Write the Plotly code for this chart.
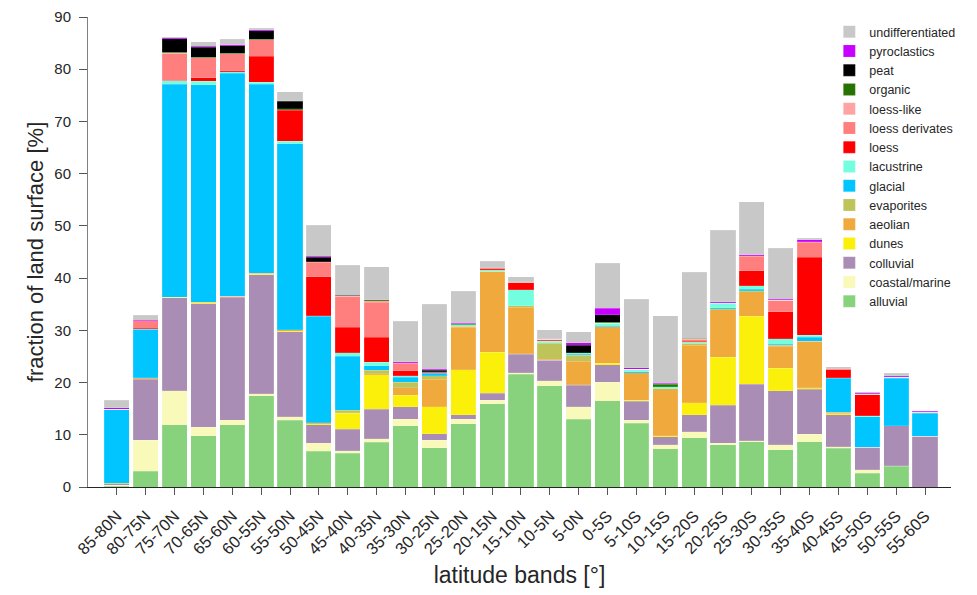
import plotly.graph_objects as go

bands = ["85-80N", "80-75N", "75-70N", "70-65N", "65-60N", "60-55N", "55-50N", "50-45N",
         "45-40N", "40-35N", "35-30N", "30-25N", "25-20N", "20-15N", "15-10N", "10-5N",
         "5-0N", "0-5S", "5-10S", "10-15S", "15-20S", "20-25S", "25-30S", "30-35S",
         "35-40S", "40-45S", "45-50S", "50-55S", "55-60S"]

alluvial = [0.1, 3.0, 11.9, 9.8, 11.9, 17.5, 12.8, 6.8, 6.5, 8.6, 11.7, 7.5, 12.1, 15.9, 21.6,
            19.4, 13.0, 16.5, 12.2, 7.35, 9.45, 8.1, 8.7, 7.1, 8.7, 7.45, 2.65, 3.95, 0]
coastal_marine = [0.2, 6.0, 6.5, 1.6, 0.9, 0.4, 0.7, 1.6, 0.4, 0.6, 1.3, 1.5, 0.9, 0.7, 0.3,
                  0.9, 2.4, 3.6, 0.6, 0.7, 1.15, 0.3, 0.15, 0.95, 1.4, 0.3, 0.65, 0.15, 0]
colluvial = [0.3, 11.6, 17.8, 23.7, 23.5, 22.7, 16.2, 3.5, 4.2, 5.7, 2.4, 1.2, 0.8, 1.4, 3.5,
             4.0, 4.1, 3.35, 3.65, 1.6, 3.2, 7.3, 10.85, 10.35, 8.6, 6.1, 4.3, 7.65, 9.7]
dunes = [0, 0.15, 0.15, 0.15, 0.1, 0.15, 0.1, 0.2, 3.0, 6.6, 2.2, 5.2, 8.7, 7.85, 0.1,
         0, 0.1, 0.2, 0.15, 0.15, 2.3, 9.1, 12.95, 4.35, 0.3, 0.2, 0, 0, 0]
aeolian = [0, 0.2, 0, 0.1, 0.1, 0.15, 0.3, 0.2, 0.1, 0.2, 1.4, 5.2, 8.1, 15.35, 8.9,
           0.2, 4.5, 7.0, 5.25, 9.05, 11.0, 9.1, 4.75, 4.2, 8.95, 0.1, 0, 0, 0]
evaporites = [0.1, 0, 0, 0, 0, 0, 0, 0, 0.5, 0.7, 1.1, 0.7, 0.15, 0.1, 0.3,
              3.0, 1.1, 0, 0, 0, 0.4, 0.2, 0.2, 0.15, 0, 0.15, 0, 0, 0]
glacial = [14.2, 9.3, 40.75, 41.7, 42.7, 36.2, 35.6, 20.4, 10.3, 0.8, 0.9, 0.5, 0, 0, 0,
           0.1, 0.2, 0.1, 0.2, 0, 0, 0.2, 0.25, 0.25, 0.75, 6.5, 5.85, 9.1, 4.4]
lacustrine = [0, 0, 0.7, 0.6, 0.3, 0.4, 0.5, 0.1, 0.7, 0.7, 0.3, 0.1, 0.3, 0.3, 3.1,
              0.3, 0.3, 0.65, 0.5, 0.3, 0.3, 0.9, 0.7, 1.05, 0.35, 0.1, 0.15, 0.15, 0.1]
loess = [0, 0.15, 0, 0.7, 0.2, 5.0, 5.9, 7.5, 4.9, 4.8, 1.0, 0.1, 0, 0.2, 1.4,
         0.2, 0, 0, 0, 0, 0.1, 0, 2.85, 5.15, 14.95, 1.6, 4.1, 0, 0]
loess_derivates = [0, 1.4, 5.3, 3.8, 3.3, 3.1, 0.1, 2.7, 5.9, 6.7, 1.4, 0.1, 0, 0.2, 0,
                   0.2, 0, 0, 0, 0, 0.4, 0.1, 2.8, 2.2, 2.9, 0.1, 0.1, 0, 0]
loess_like = [0, 0, 0, 0, 0, 0, 0, 0.1, 0, 0.3, 0.1, 0, 0, 0, 0,
              0, 0, 0, 0, 0, 0, 0, 0.05, 0, 0.1, 0, 0, 0.1, 0.15]
organic = [0, 0, 0.15, 0.1, 0.1, 0.15, 0.2, 0, 0.1, 0.15, 0, 0, 0.1, 0, 0,
           0, 0, 0.15, 0, 0.5, 0.2, 0, 0, 0, 0, 0, 0, 0, 0]
peat = [0, 0, 2.6, 2.0, 1.4, 1.6, 1.5, 0.9, 0.1, 0, 0, 0.25, 0.15, 0, 0,
        0, 1.45, 1.4, 0, 0.1, 0, 0, 0, 0, 0, 0, 0, 0, 0]
pyroclastics = [0.3, 0.15, 0.15, 0.15, 0.15, 0.2, 0.05, 0.15, 0, 0, 0.15, 0.2, 0.1, 0, 0.15,
                0.1, 0.5, 1.3, 0.25, 0.15, 0, 0.2, 0.2, 0.2, 0.3, 0, 0.2, 0.2, 0.15]
undifferentiated = [1.4, 0.9, 0.2, 0.85, 1.1, 0.3, 1.7, 6.0, 5.8, 6.3, 7.75, 12.4, 6.1, 1.2, 0.9,
                    1.7, 2.05, 8.55, 13.2, 12.9, 12.6, 13.7, 10.2, 9.75, 0.3, 0.4, 0.2, 0.5, 0.1]

series = [
    ("alluvial", alluvial, "#88D27D"),
    ("coastal/marine", coastal_marine, "#F9F9BA"),
    ("colluvial", colluvial, "#A98DB4"),
    ("dunes", dunes, "#FAF00A"),
    ("aeolian", aeolian, "#EFA93D"),
    ("evaporites", evaporites, "#BFC45A"),
    ("glacial", glacial, "#00C5FF"),
    ("lacustrine", lacustrine, "#73FFDF"),
    ("loess", loess, "#FF0000"),
    ("loess derivates", loess_derivates, "#FF7F7F"),
    ("loess-like", loess_like, "#FFA3A3"),
    ("organic", organic, "#267300"),
    ("peat", peat, "#000000"),
    ("pyroclastics", pyroclastics, "#C800FF"),
    ("undifferentiated", undifferentiated, "#C8C8C8"),
]

FONT = "Liberation Sans, Arial, Helvetica, sans-serif"

fig = go.Figure()
for name, vals, col in series:
    fig.add_trace(go.Bar(
        x=bands, y=vals, name=name,
        marker=dict(color=col, line=dict(color="rgba(255,255,255,0.35)", width=0.4)),
    ))

fig.update_layout(
    width=977, height=595,
    barmode="stack", bargap=0.13,
    plot_bgcolor="white", paper_bgcolor="white",
    margin=dict(l=80, r=34, t=9, b=116, autoexpand=False),
    font=dict(family=FONT, color="#262626"),
    legend=dict(
        traceorder="reversed", x=0.859, y=1.0, xanchor="left", yanchor="top",
        font=dict(size=12.5, color="#262626"), bgcolor="rgba(0,0,0,0)",
        tracegroupgap=0, itemwidth=30,
    ),
    showlegend=True,
)
fig.update_xaxes(
    range=[-1.0, 28.9], showline=True, linecolor="#262626", linewidth=1,
    ticks="outside", ticklen=7, tickcolor="#555555", tickangle=-45,
    ticklabelstandoff=5,
    tickfont=dict(size=16.5, color="#262626"), automargin=False,
    title=dict(text="latitude bands [°]", font=dict(size=23, color="#262626"), standoff=10),
    showgrid=False, zeroline=False,
)
fig.update_yaxes(
    range=[0, 90], dtick=10, showline=True, linecolor="#808080", linewidth=1,
    ticks="outside", ticklen=8, tickcolor="#555555", ticklabelstandoff=5,
    ticklabeloverflow="allow",
    tickfont=dict(size=15, color="#262626"), automargin=False,
    title=dict(text="fraction of land surface [%]", font=dict(size=22, color="#262626"), standoff=4),
    showgrid=False, zeroline=False,
)

fig.write_html("out.html")
